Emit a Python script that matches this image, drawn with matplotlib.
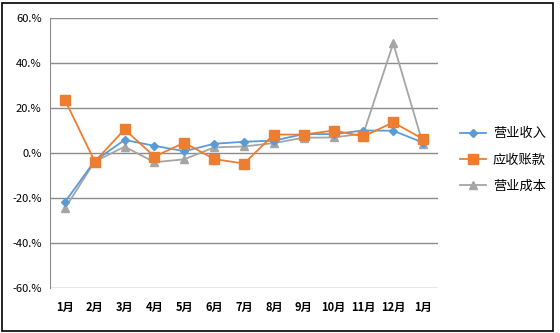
import matplotlib
matplotlib.use("Agg")
import matplotlib.pyplot as plt
from matplotlib.patches import Rectangle
from matplotlib.ticker import FuncFormatter

plt.rcParams['font.family'] = ['Noto Sans CJK SC', 'DejaVu Sans']

months = ["1月", "2月", "3月", "4月", "5月", "6月", "7月", "8月", "9月", "10月", "11月", "12月", "1月"]
revenue = [-21.8, -3.5, 5.8, 3.2, 0.8, 4.1, 5.0, 5.5, 8.4, 8.4, 10.0, 9.9, 4.6]
receivable = [23.6, -3.8, 10.5, -1.6, 4.6, -2.7, -4.7, 8.2, 8.2, 10.0, 7.4, 13.6, 6.2]
cost = [-24.6, -3.8, 2.8, -4.1, -2.8, 2.5, 2.9, 4.4, 6.8, 6.9, 8.6, 48.7, 3.8]
yticks = [-60, -40, -20, 0, 20, 40, 60]

fig = plt.figure(figsize=(5.6, 3.33), dpi=100)
ax = fig.add_axes([50/560, 1-288/333, (438-50)/560, (288-18)/333])

x = list(range(len(months)))
l1, = ax.plot(x, revenue, color='#5B9BD5', lw=1.3, marker='D', ms=4.5, label='营业收入', zorder=3)
l2, = ax.plot(x, receivable, color='#ED7D31', lw=1.3, marker='s', ms=6.5, label='应收账款', zorder=3)
l3, = ax.plot(x, cost, color='#A5A5A5', lw=1.3, marker='^', ms=6, label='营业成本', zorder=2)

ax.set_xlim(-0.5, len(months)-0.5)
ax.set_ylim(-60, 60)
ax.set_yticks(yticks)
ax.yaxis.set_major_formatter(FuncFormatter(lambda v, p: f"{int(v)}.%"))
ax.set_xticks(x)
ax.set_xticklabels(months, fontweight='bold', fontsize=8)
ax.tick_params(axis='y', labelsize=8, length=0, pad=6)
ax.tick_params(axis='x', length=0, pad=9)
ax.grid(axis='y', color='#8c8c8c', lw=1)
for s in ['top', 'right', 'bottom']:
    ax.spines[s].set_visible(False)
ax.spines['left'].set_color('#8c8c8c')

leg = fig.legend(handles=[l1, l2, l3], loc='center left', bbox_to_anchor=(448/560, 1-160/333),
                 frameon=False, fontsize=9.5, handlelength=2.0, handletextpad=0.5, labelspacing=1.0)

fig.patches.append(Rectangle((2/560, 1-331/333), 551/560, 328/333, transform=fig.transFigure,
                             fill=False, edgecolor='black', lw=1.2))
fig.savefig('out.png', dpi=100)
